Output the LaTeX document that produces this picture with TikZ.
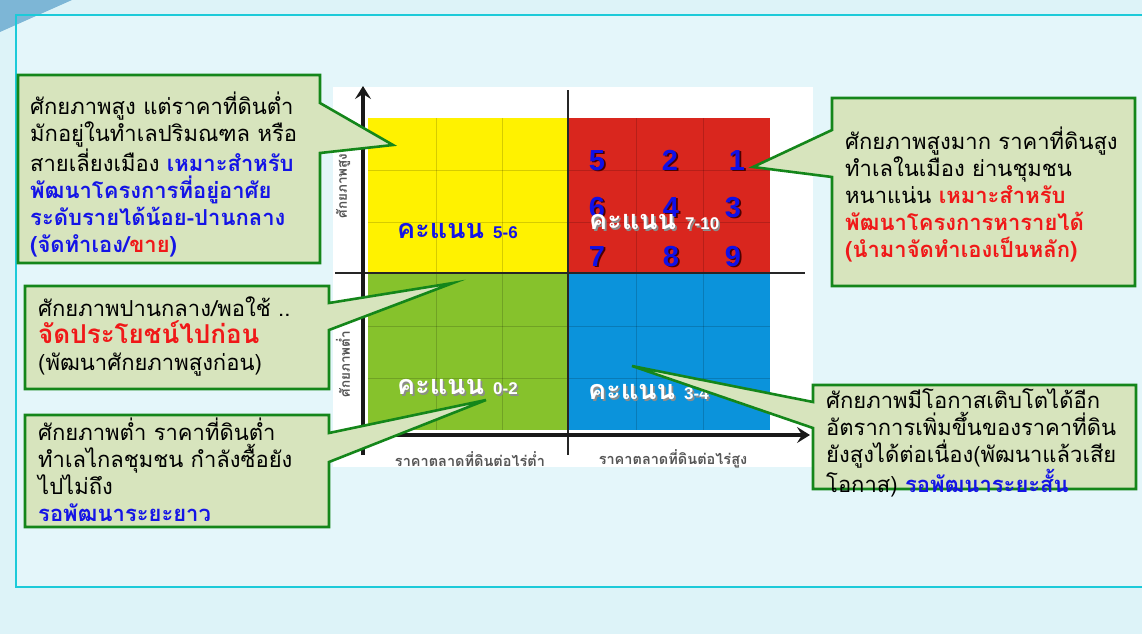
\documentclass[tikz,border=0pt]{standalone}
\usepackage{fontspec}
\setmainfont{Loma}[Script=Thai]
\newfontfamily\latinfont{Liberation Sans}
\usetikzlibrary{arrows.meta}

\definecolor{pagebg}{HTML}{DDF3F8}
\definecolor{panelbg}{HTML}{E4F6FA}
\definecolor{panelline}{HTML}{1CCAD9}
\definecolor{cornerblue}{HTML}{7DB6D6}
\definecolor{quadYellow}{HTML}{FFF200}
\definecolor{quadRed}{HTML}{D9261E}
\definecolor{quadGreen}{HTML}{86C22C}
\definecolor{quadBlue}{HTML}{0B93DB}
\definecolor{callFill}{HTML}{D7E4BD}
\definecolor{callLine}{HTML}{14861A}
\definecolor{txtBlue}{HTML}{1414E6}
\definecolor{txtRed}{HTML}{F01818}
\definecolor{numBlue}{HTML}{1010E8}
\definecolor{axisText}{HTML}{555555}

% emphasised phrases
\newcommand\bluebold[1]{{\bfseries\color{txtBlue}#1}}
\newcommand\redbold[1]{{\bfseries\color{txtRed}#1}}
% text with a soft drop shadow
\newcommand\dropshadow[2]{\makebox[0pt][l]{\hspace{1.6pt}\raisebox{-1.6pt}{\color{#1}#2}}#2}

\tikzset{
  callout/.style={fill=callFill, draw=callLine, line width=2.6pt, line join=miter},
  calltext/.style={anchor=north west, align=left, inner sep=0pt,
    font=\fontsize{22}{27}\selectfont},
  gridline/.style={draw=black, opacity=0.16, line width=0.8pt},
  midline/.style={draw=black!85, line width=1.5pt},
  axisline/.style={draw=black!90, line width=3.4pt,
    -{Stealth[length=13pt,width=16pt,inset=5pt]}},
  axislabel/.style={text=axisText, font=\bfseries\fontsize{14.5}{14.5}\selectfont, inner sep=0pt},
  scorenum/.style={text=numBlue, inner sep=0pt,
    font=\latinfont\bfseries\fontsize{29}{29}\selectfont},
  scorelabel/.style={inner sep=0pt, font=\bfseries\fontsize{27}{27}\selectfont},
}
\newcommand\scoredigits[1]{{\latinfont\bfseries\fontsize{17}{17}\selectfont #1}}

\begin{document}
\begin{tikzpicture}[x=1pt,y=-1pt]
\useasboundingbox (0,0) rectangle (1142,634);

% page and panel
\fill[pagebg] (0,0) rectangle (1142,634);
\fill[panelbg] (16,15) rectangle (1152,587);
\fill[cornerblue] (0,0) -- (72,0) -- (0,32) -- cycle;
\draw[panelline, line width=2.5pt] (16,15) rectangle (1152,587);

% chart area
\fill[white] (333,87) rectangle (813,467);
\fill[quadYellow] (368,118) rectangle (568,273);
\fill[quadRed]    (568,118) rectangle (770,273);
\fill[quadGreen]  (368,273) rectangle (568,430);
\fill[quadBlue]   (568,273) rectangle (770,430);

\foreach \gx in {436,502,636,703} \draw[gridline] (\gx,118) -- (\gx,430);
\foreach \gy in {170,222,326,378} \draw[gridline] (368,\gy) -- (770,\gy);

% quadrant dividers
\coordinate (hmidW) at (335,273);
\coordinate (hmidE) at (805,273);
\coordinate (vmidN) at (568,90);
\coordinate (vmidS) at (568,455);
\draw[midline] (hmidW) -- (hmidE);
\draw[midline] (vmidN) -- (vmidS);

% axes
\coordinate (origin) at (363,435);
\coordinate (ybottom) at (363,455);
\coordinate (ytop) at (363,86);
\coordinate (xend) at (810,435);
\draw[axisline] (ybottom) -- (ytop);
\draw[axisline] (origin) -- (xend);

% axis labels
\node[axislabel, rotate=90, font=\bfseries\fontsize{13.5}{13.5}\selectfont] (ylabHigh) at (343,186) {ศักยภาพสูง};
\node[axislabel, rotate=90, font=\bfseries\fontsize{13.5}{13.5}\selectfont] (ylabLow) at (343,364) {ศักยภาพต่ำ};
\node[axislabel] (xlabLow) at (470,459) {ราคาตลาดที่ดินต่อไร่ต่ำ};
\node[axislabel] (xlabHigh) at (673,459) {ราคาตลาดที่ดินต่อไร่สูง};

% ranking numbers in the red quadrant
\node[scorenum] (n5) at (597,161) {\dropshadow{black!70!red}{5}};
\node[scorenum] (n2) at (670,161) {\dropshadow{black!70!red}{2}};
\node[scorenum] (n1) at (737,161) {\dropshadow{black!70!red}{1}};
\node[scorenum] (n6) at (597,208) {\dropshadow{black!70!red}{6}};
\node[scorenum] (n4) at (671,208) {\dropshadow{black!70!red}{4}};
\node[scorenum] (n3) at (733,208) {\dropshadow{black!70!red}{3}};
\node[scorenum] (n7) at (597,257) {\dropshadow{black!70!red}{7}};
\node[scorenum] (n8) at (671,257) {\dropshadow{black!70!red}{8}};
\node[scorenum] (n9) at (733,257) {\dropshadow{black!70!red}{9}};

% score labels
\node[scorelabel, anchor=west, text=txtBlue] (s56) at (397,231) {คะแนน \scoredigits{5-6}};
\node[scorelabel, anchor=west, text=white] (s710) at (589,223) {\dropshadow{black!45}{คะแนน \scoredigits{7-10}}};
\node[scorelabel, anchor=west, text=white] (s02) at (397,388) {\dropshadow{black!45}{คะแนน \scoredigits{0-2}}};
\node[scorelabel, anchor=west, text=white] (s34) at (588,393) {\dropshadow{black!45}{คะแนน \scoredigits{3-4}}};

% callout 1: high potential, low land price
\coordinate (tipA) at (393,145);
\path[callout] (18,75) -- (320,75) -- (320,103) -- (tipA) -- (320,153) -- (320,263) -- (18,263) -- cycle;
\node[calltext] (textA) at (30,92) {ศักยภาพสูง แต่ราคาที่ดินต่ำ\\
มักอยู่ในทำเลปริมณฑล หรือ\\
สายเลี่ยงเมือง \bluebold{เหมาะสำหรับ}\\
\bluebold{พัฒนาโครงการที่อยู่อาศัย}\\
\bluebold{ระดับรายได้น้อย-ปานกลาง}\\
\bluebold{(จัดทำเอง/}\redbold{ขาย}\bluebold{)}};

% callout 2: medium potential
\coordinate (tipB) at (453,283);
\path[callout] (25,286) -- (329,286) -- (329,303) -- (tipB) -- (329,330) -- (329,389) -- (25,389) -- cycle;
\node[calltext] (textB) at (38,297) {ศักยภาพปานกลาง/พอใช้ ..\\
{\fontsize{26}{30}\selectfont\redbold{จัดประโยชน์ไปก่อน}}\\
(พัฒนาศักยภาพสูงก่อน)};

% callout 3: low potential
\coordinate (tipC) at (486,400);
\path[callout] (25,415) -- (329,415) -- (329,433) -- (tipC) -- (329,462) -- (329,527) -- (25,527) -- cycle;
\node[calltext] (textC) at (38,418) {ศักยภาพต่ำ ราคาที่ดินต่ำ\\
ทำเลไกลชุมชน กำลังซื้อยัง\\
ไปไม่ถึง\\
\bluebold{รอพัฒนาระยะยาว}};

% callout 4: very high potential
\coordinate (tipD) at (753,167);
\path[callout] (832,98) -- (1135,98) -- (1135,286) -- (832,286) -- (832,177) -- (tipD) -- (832,130) -- cycle;
\node[calltext] (textD) at (845,127) {ศักยภาพสูงมาก ราคาที่ดินสูง\\
ทำเลในเมือง ย่านชุมชน\\
หนาแน่น \redbold{เหมาะสำหรับ}\\
\redbold{พัฒนาโครงการหารายได้}\\
\redbold{(นำมาจัดทำเองเป็นหลัก)}};

% callout 5: growth potential
\coordinate (tipE) at (632,366);
\path[callout] (813,385) -- (1136,385) -- (1136,489) -- (813,489) -- (813,428) -- (tipE) -- (813,402) -- cycle;
\node[calltext] (textE) at (826,388) {ศักยภาพมีโอกาสเติบโตได้อีก\\
อัตราการเพิ่มขึ้นของราคาที่ดิน\\
ยังสูงได้ต่อเนื่อง(พัฒนาแล้วเสีย\\
โอกาส) \bluebold{รอพัฒนาระยะสั้น}};

\end{tikzpicture}
\end{document}
